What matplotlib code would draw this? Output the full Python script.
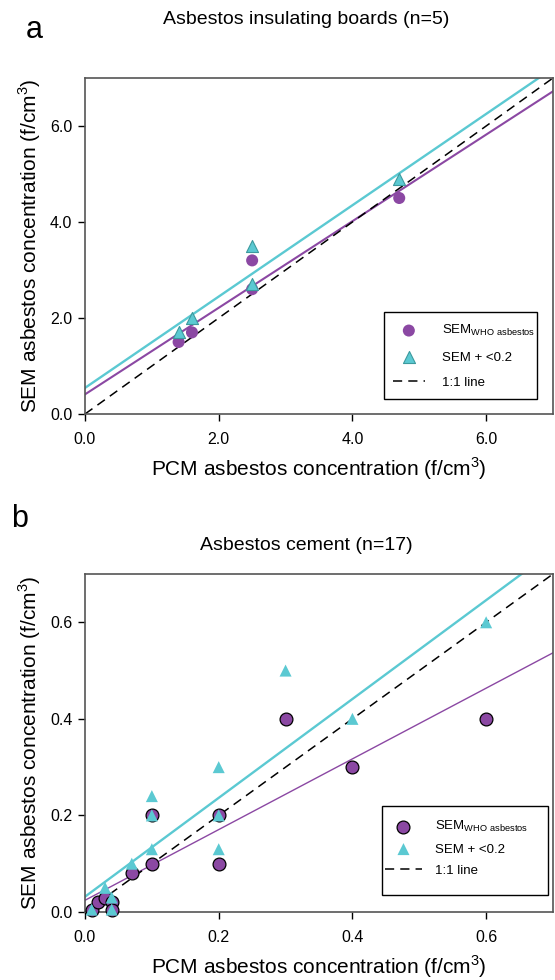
import numpy as np
import matplotlib
matplotlib.use("Agg")
import matplotlib.pyplot as plt
from matplotlib.patches import Rectangle
from matplotlib.ticker import FormatStrFormatter

plt.rcParams['font.family'] = ['Liberation Sans', 'DejaVu Sans']
plt.rcParams['mathtext.fontset'] = 'custom'
plt.rcParams['mathtext.rm'] = 'Liberation Sans'

# ---- data: panel a (insulating boards) ----
a_pcm_who = [1.4, 1.6, 2.5, 2.5, 4.7]
a_sem_who = [1.5, 1.7, 3.2, 2.6, 4.5]
a_pcm_tot = [1.4, 1.6, 2.5, 2.5, 4.7]
a_sem_tot = [1.7, 2.0, 3.5, 2.7, 4.9]

# ---- data: panel b (asbestos cement) ----
b_pcm_who = [0.01, 0.02, 0.03, 0.04, 0.04, 0.07, 0.1, 0.1, 0.2, 0.2, 0.3, 0.4, 0.6]
b_sem_who = [0.005, 0.02, 0.03, 0.02, 0.005, 0.08, 0.1, 0.2, 0.1, 0.2, 0.4, 0.3, 0.4]
b_pcm_tot = [0.01, 0.03, 0.04, 0.04, 0.07, 0.1, 0.1, 0.1, 0.2, 0.2, 0.2, 0.3, 0.4, 0.6]
b_sem_tot = [0.005, 0.05, 0.03, 0.005, 0.1, 0.24, 0.2, 0.13, 0.3, 0.2, 0.13, 0.5, 0.4, 0.6]

titles = ["Asbestos insulating boards (n=5)", "Asbestos cement (n=17)"]
panel_letters = ["a", "b"]
a_ticks = [0.0, 2.0, 4.0, 6.0]
b_ticks = [0.0, 0.2, 0.4, 0.6]
legend_labels = ["SEM$_{\\mathrm{WHO\\ asbestos}}$", "SEM + <0.2", "1:1 line"]

PURPLE = "#8B48A3"
CYAN = "#5BC9D2"
CYAN_EDGE = "#3C9A9E"
SPINE = "#555555"

fig = plt.figure(figsize=(5.55, 9.8), dpi=100)
W, H = 555, 980

def fx(px):
    return px / W

def fy(py):
    return 1 - py / H

def add_axes_px(l, t, r, b):
    return fig.add_axes([l / W, 1 - b / H, (r - l) / W, (b - t) / H])

axa = add_axes_px(85, 78, 553, 414)
axb = add_axes_px(85, 574, 553, 912)

def style(ax, lim, ticks, fmt):
    ax.set_xlim(0, lim)
    ax.set_ylim(0, lim)
    ax.set_xticks(ticks)
    ax.set_yticks(ticks)
    ax.xaxis.set_major_formatter(FormatStrFormatter(fmt))
    ax.yaxis.set_major_formatter(FormatStrFormatter(fmt))
    ax.tick_params(direction='out', length=5, width=1, labelsize=11.5, color='black', pad=4)
    ax.tick_params(axis='x', pad=8)
    for s in ax.spines.values():
        s.set_color(SPINE)
        s.set_linewidth(1.2)
    ax.set_xlabel("PCM asbestos concentration (f/cm$^3$)", fontsize=15, labelpad=6)
    ax.set_ylabel("SEM asbestos concentration (f/cm$^3$)", fontsize=15, labelpad=5)

def fit_line(ax, x, y, lim, color, lw):
    k, c = np.polyfit(x, y, 1)
    xs = np.array([0, lim])
    ax.plot(xs, k * xs + c, color=color, lw=lw, zorder=2)

def framed_legend(ax, handles, box, anchor, spacing, hlen, hpad):
    l, t, r, b = box
    ax.add_patch(Rectangle((fx(l), fy(b)), fx(r) - fx(l), fy(t) - fy(b),
                           transform=fig.transFigure, facecolor='white',
                           edgecolor='black', lw=1.0, zorder=6, clip_on=False))
    leg = ax.legend(handles, legend_labels, loc='center left',
                    bbox_to_anchor=(fx(anchor[0]), fy(anchor[1])),
                    bbox_transform=fig.transFigure, frameon=False,
                    fontsize=9.5, labelspacing=spacing, borderpad=0,
                    handlelength=hlen, handletextpad=hpad, borderaxespad=0)
    leg.set_zorder(7)
    return leg

# panel a
style(axa, 7, a_ticks, '%.1f')
fit_line(axa, a_pcm_who, a_sem_who, 7, PURPLE, 1.5)
fit_line(axa, a_pcm_tot, a_sem_tot, 7, CYAN, 1.7)
axa.plot([0, 7], [0, 7], color='black', ls=(0, (6, 4)), lw=1.1, zorder=2)
axa.scatter(a_pcm_who, a_sem_who, s=75, color=PURPLE, edgecolors='none', zorder=3)
axa.scatter(a_pcm_tot, a_sem_tot, s=75, marker='^', color=CYAN, edgecolors=CYAN_EDGE,
            linewidths=0.8, zorder=4)
ha = [
    axa.scatter([], [], s=75, color=PURPLE, edgecolors='none'),
    axa.scatter([], [], s=75, marker='^', color=CYAN, edgecolors=CYAN_EDGE, linewidths=0.8),
    axa.plot([], [], color='black', ls=(0, (6, 4)), lw=1.1)[0],
]
framed_legend(axa, ha, (384, 312, 537, 399), (393, 356), 1.0, 2.4, 1.3)

# panel b
style(axb, 0.7, b_ticks, '%.1f')
fit_line(axb, b_pcm_who, b_sem_who, 0.7, PURPLE, 1.0)
fit_line(axb, b_pcm_tot, b_sem_tot, 0.7, CYAN, 1.7)
axb.plot([0, 0.7], [0, 0.7], color='black', ls=(0, (6, 4)), lw=1.1, zorder=2)
axb.scatter(b_pcm_who, b_sem_who, s=85, color=PURPLE, edgecolors='black',
            linewidths=0.9, zorder=3, clip_on=False)
axb.scatter(b_pcm_tot, b_sem_tot, s=75, marker='^', color=CYAN, edgecolors='none',
            zorder=4, clip_on=False)
hb = [
    axb.scatter([], [], s=85, color=PURPLE, edgecolors='black', linewidths=0.9),
    axb.scatter([], [], s=75, marker='^', color=CYAN, edgecolors='none'),
    axb.plot([], [], color='black', ls=(0, (6, 4)), lw=1.1)[0],
]
framed_legend(axb, hb, (382, 806, 548, 895), (385, 848), 0.7, 2.8, 1.0)

# titles and panel letters
fig.text(306 / W, 1 - 20 / H, titles[0], ha='center', va='center', fontsize=14)
fig.text(306 / W, 1 - 546 / H, titles[1], ha='center', va='center', fontsize=14)
fig.text(34 / W, 1 - 30 / H, panel_letters[0], ha='center', va='center', fontsize=22)
fig.text(20 / W, 1 - 519 / H, panel_letters[1], ha='center', va='center', fontsize=22)

fig.savefig("out.png", dpi=100)
